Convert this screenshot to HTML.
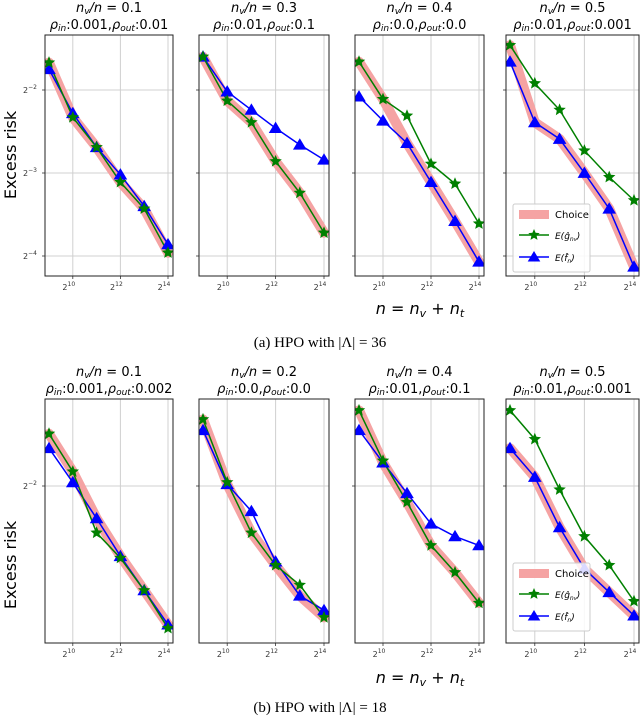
<!DOCTYPE html>
<html><head><meta charset="utf-8">
<style>
body{margin:0;background:#fff;width:640px;height:719px;overflow:hidden}
svg{display:block}
text{font-family:"DejaVu Sans","Liberation Sans",sans-serif}
.cap{font-family:"Liberation Serif",serif;font-size:15px}
</style></head><body>
<svg id="fig" width="640" height="719" xmlns="http://www.w3.org/2000/svg"></svg>
<script>
// x categories (log2 of n)
const xLog = [9,10,11,12,13,14];
const xTickLabels = ["10","12","14"];
const xTickVals = [10,12,14];
// Top row (|Λ|=36) series, log2 excess risk
const topTitles1 = ["0.1","0.3","0.4","0.5"];
const topTitles2 = [["0.001","0.01"],["0.01","0.1"],["0.0","0.0"],["0.01","0.001"]];
const topG = [
 [-1.67,-2.33,-2.69,-3.11,-3.43,-3.96],
 [-1.60,-2.13,-2.39,-2.86,-3.24,-3.72],
 [-1.66,-2.11,-2.31,-2.89,-3.13,-3.61],
 [-1.46,-1.92,-2.24,-2.73,-3.05,-3.33]];
const topF = [
 [-1.75,-2.28,-2.69,-3.02,-3.40,-3.86],
 [-1.60,-2.02,-2.24,-2.46,-2.66,-2.84],
 [-2.08,-2.37,-2.64,-3.11,-3.58,-4.07],
 [-1.66,-2.39,-2.59,-3.00,-3.43,-4.13]];
const topChoice = [
 ["g","g","g","g","g","g"],
 ["g","g","g","g","g","g"],
 ["g","g","f","f","f","f"],
 ["g","f","f","f","f","f"]];
const topYTicks = [-2,-3,-4];
// Bottom row (|Λ|=18)
const botTitles1 = ["0.1","0.2","0.4","0.5"];
const botTitles2 = [["0.001","0.002"],["0.0","0.0"],["0.01","0.1"],["0.01","0.001"]];
const botG = [
 [-1.71,-1.92,-2.26,-2.40,-2.58,-2.79],
 [-1.63,-1.98,-2.26,-2.44,-2.55,-2.73],
 [-1.58,-1.86,-2.09,-2.33,-2.48,-2.65],
 [-1.58,-1.74,-2.02,-2.28,-2.44,-2.64]];
const botF = [
 [-1.79,-1.98,-2.18,-2.39,-2.58,-2.77],
 [-1.69,-1.99,-2.14,-2.42,-2.61,-2.69],
 [-1.69,-1.87,-2.04,-2.21,-2.28,-2.33],
 [-1.79,-1.95,-2.23,-2.46,-2.59,-2.72]];
const botChoice = [
 ["g","g","f","f","f","f"],
 ["g","f","g","g","f","g"],
 ["g","f","g","g","g","g"],
 ["f","f","f","f","f","f"]];
const botYTicks = [-2];

const NS="http://www.w3.org/2000/svg";
const svg=document.getElementById('fig');
function mk(tag,attrs,parent){const e=document.createElementNS(NS,tag);for(const k in attrs)e.setAttribute(k,attrs[k]);(parent||svg).appendChild(e);return e;}
function star(cx,cy,r){let p=[];for(let i=0;i<10;i++){const a=-Math.PI/2+i*Math.PI/5;const rr=i%2?r*0.45:r;p.push((cx+rr*Math.cos(a)).toFixed(1)+','+(cy+rr*Math.sin(a)).toFixed(1));}return p.join(' ');}
function tri(cx,cy,r){return `${cx},${cy-r} ${cx-r*1.05},${cy+r*0.75} ${cx+r*1.05},${cy+r*0.75}`;}

const panelsX=[[45,173],[199,329],[355,484],[506,639]];
function drawRow(row){
 panelsX.forEach((px,i)=>{
  const g=mk('g',{});
  
  
  const x0=px[0],x1=px[1],y0=row.top,y1=row.bottom;
  const xs=v=>x0+4+(v-9)*(x1-x0-9)/5;
  const ys=v=>row.y2+(-2-v)*row.scale;
  xTickVals.forEach((t,k)=>{
   const l=mk('line',{x1:xs(t),x2:xs(t),y1:y0,y2:y1,stroke:'#d0d0d0','stroke-width':1},g);
   
   mk('line',{x1:xs(t),x2:xs(t),y1:y1,y2:y1+3,stroke:'#333','stroke-width':0.8},g);
   const tx=mk('text',{x:xs(t)-4,y:y1+14,'font-size':8,'text-anchor':'middle',fill:'#333'},g);
   
   tx.textContent='2';const s=mk('tspan',{dy:-4,'font-size':6},tx);s.textContent=xTickLabels[k];
  });
  row.yt.forEach(t=>{
   const y=ys(t);
   const l=mk('line',{x1:x0,x2:x1,y1:y,y2:y,stroke:'#d0d0d0','stroke-width':1},g);
   
   mk('line',{x1:x0-3,x2:x0,y1:y,y2:y,stroke:'#333','stroke-width':0.8},g);
   if(i===0){const tx=mk('text',{x:23,y:y+3,'font-size':8,fill:'#333'},g);
    
    tx.textContent='2';const s=mk('tspan',{dy:-4,'font-size':6},tx);s.textContent='−'+(-t);}
  });
  const cp=mk('clipPath',{id:row.name+'c'+i},g);mk('rect',{x:x0,y:y0,width:x1-x0,height:y1-y0},cp);
  const d=mk('g',{'clip-path':`url(#${row.name}c${i})`},g);
  const G=row.G[i],F=row.F[i],C=row.C[i];
  const cpts=xLog.map((x,k)=>xs(x)+','+ys(C[k]==='g'?G[k]:F[k])).join(' ');
  const cl=mk('polyline',{points:cpts,fill:'none',stroke:'#f5a3a3','stroke-width':10,'stroke-linejoin':'round','stroke-linecap':'round'},d);
  
  const fl=mk('polyline',{points:xLog.map((x,k)=>xs(x)+','+ys(F[k])).join(' '),fill:'none',stroke:'#0000ff','stroke-width':1.5},d);
  
  const gl=mk('polyline',{points:xLog.map((x,k)=>xs(x)+','+ys(G[k])).join(' '),fill:'none',stroke:'#008000','stroke-width':1.5},d);
  
  xLog.forEach((x,k)=>{
   const m=mk('polygon',{points:tri(xs(x),ys(F[k]),6.5),fill:'#0000ff'},d);
   
  });
  xLog.forEach((x,k)=>{
   const m=mk('polygon',{points:star(xs(x),ys(G[k]),6.5),fill:'#008000'},d);
   
  });
  const fr=mk('rect',{x:x0,y:y0,width:x1-x0,height:y1-y0,fill:'none',stroke:'#222','stroke-width':1},g);
  
  const cx=(x0+x1)/2;
  const t1=mk('text',{x:cx,y:row.top-23,'font-size':13,'text-anchor':'middle'},g);
  
  t1.innerHTML=`<tspan font-style="italic">n</tspan><tspan font-size="9" dy="2" font-style="italic">v</tspan><tspan dy="-2" font-style="italic">/n</tspan> = ${row.t1[i]}`;
  const t2=mk('text',{x:cx,y:row.top-6,'font-size':13,'text-anchor':'middle'},g);
  
  t2.innerHTML=`<tspan font-style="italic">ρ</tspan><tspan font-size="9" dy="2" font-style="italic">in</tspan><tspan dy="-2">:${row.t2[i][0]},</tspan><tspan font-style="italic">ρ</tspan><tspan font-size="9" dy="2" font-style="italic">out</tspan><tspan dy="-2">:${row.t2[i][1]}</tspan>`;
 });
 const lg=mk('g',{});
 const lx=513,ly=row.leg;
 mk('rect',{x:lx,y:ly,width:77,height:68,fill:'#fff','fill-opacity':0.85,stroke:'#ccc',rx:2},lg);
 mk('rect',{x:lx+6,y:ly+6,width:30,height:9,fill:'#f5a3a3'},lg);
 const a=mk('text',{x:lx+42,y:ly+14,'font-size':10},lg);a.textContent='Choice';
 mk('line',{x1:lx+6,x2:lx+36,y1:ly+31,y2:ly+31,stroke:'#008000','stroke-width':1.5},lg);
 mk('polygon',{points:star(lx+21,ly+31,6),fill:'#008000'},lg);
 const b=mk('text',{x:lx+42,y:ly+35,'font-size':9,'font-style':'italic'},lg);b.innerHTML='E(ĝ<tspan font-size="6" dy="2">n<tspan font-size="5">v</tspan></tspan><tspan dy="-2">)</tspan>';
 mk('line',{x1:lx+6,x2:lx+36,y1:ly+53,y2:ly+53,stroke:'#0000ff','stroke-width':1.5},lg);
 mk('polygon',{points:tri(lx+21,ly+53,6),fill:'#0000ff'},lg);
 const c=mk('text',{x:lx+42,y:ly+57,'font-size':9,'font-style':'italic'},lg);c.innerHTML='E(f̂<tspan font-size="6" dy="2">n</tspan><tspan dy="-2">)</tspan>';
 const yl=mk('text',{x:0,y:0,'font-size':16,'text-anchor':'middle',transform:`translate(16,${row.ylabY}) rotate(-90)`});
 yl.textContent='Excess risk';
 const xl=mk('text',{x:420,y:row.xlabY,'font-size':16,'text-anchor':'middle','font-style':'italic'});
 
 xl.innerHTML='n = n<tspan font-size="11" dy="3">v</tspan><tspan dy="-3"> + n</tspan><tspan font-size="11" dy="3">t</tspan>';
 const cap=mk('text',{x:320,y:row.capY,'text-anchor':'middle',class:'cap'});
 
 cap.textContent=row.cap;
}
drawRow({name:'top',top:35,bottom:276,y2:90,scale:83,yt:topYTicks,G:topG,F:topF,C:topChoice,t1:topTitles1,t2:topTitles2,leg:204,ylabY:155,xlabY:314,capY:347,cap:'(a) HPO with |Λ| = 36'});
drawRow({name:'bottom',top:399,bottom:643,y2:486,scale:180,yt:botYTicks,G:botG,F:botF,C:botChoice,t1:botTitles1,t2:botTitles2,leg:563,ylabY:565,xlabY:683,capY:712,cap:'(b) HPO with |Λ| = 18'});
</script>
</body></html>
